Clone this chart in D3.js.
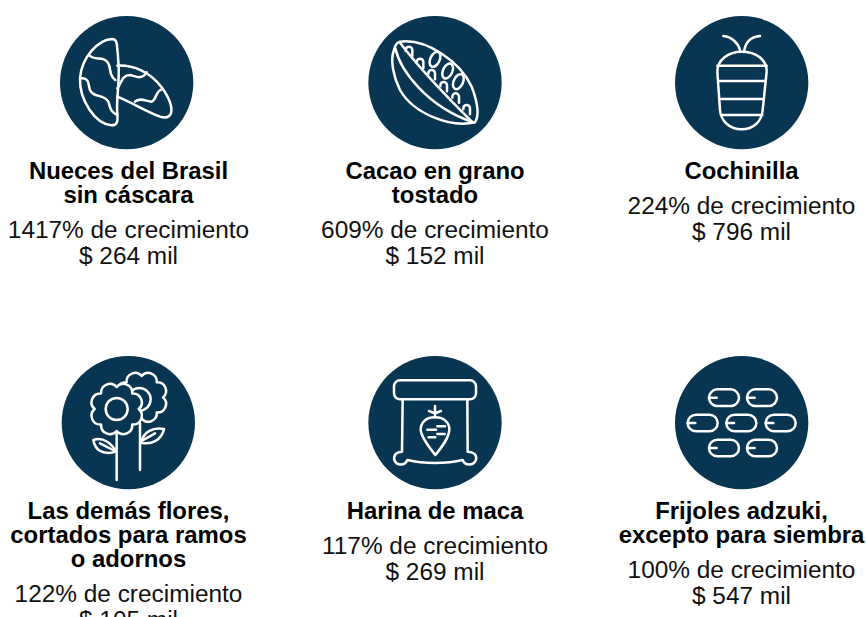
<!DOCTYPE html>
<html>
<head>
<meta charset="utf-8">
<script src="https://cdn.jsdelivr.net/npm/d3@7"></script>
<style>
html, body { margin: 0; padding: 0; background: #fff; overflow: hidden; }
text { font-family: "Liberation Sans", Arial, sans-serif; fill: #000; text-anchor: middle; }
.nombre { font-weight: bold; font-size: 23.9px; }
.dato { font-size: 24.4px; fill: #111; }
</style>
</head>
<body>
<div class="chart"></div>
<script>
const width = 866;
const height = 617;

const productos = [
  ["Nueces del Brasil", "sin cáscara"],
  ["Cacao en grano", "tostado"],
  ["Cochinilla"],
  ["Las demás flores,", "cortados para ramos", "o adornos"],
  ["Harina de maca"],
  ["Frijoles adzuki,", "excepto para siembra"]
];
const crecimiento = [1417, 609, 224, 122, 117, 100];
const valorMiles = [264, 152, 796, 105, 269, 547];
const iconos = ["nuez", "cacao", "cochinilla", "flores", "harina", "frijoles"];

const AZUL = "#083552";

const svg = d3.select(".chart").append("svg").attr("width", width).attr("height", height);

const col = d3.scalePoint().domain([0, 1, 2]).range([128.5, 741.5]);
const fila = d3.scalePoint().domain([0, 1]).range([179, 519]);

function trazo(g, d) {
  return g.append("path").attr("d", d);
}

// flower outline, one arc per petal
function scallop(cx, cy, r, n) {
  const pts = d3.range(n).map(i => {
    const a = i * 2 * Math.PI / n;
    return [cx + r * Math.cos(a), cy + r * Math.sin(a)];
  });
  const b = r * Math.sin(Math.PI / n) * 1.05;
  let d = `M${pts[0][0]} ${pts[0][1]}`;
  d3.range(1, n + 1).forEach(i => {
    const p = pts[i % n];
    d += `A${b} ${b} 0 0 1 ${p[0]} ${p[1]}`;
  });
  return d + "Z";
}

const dibujar = {
  nuez(g) {
    trazo(g, "M215 117C175 120 125 170 120 235C118 300 165 372 215 376C232 376 234 365 232 340C228 300 238 260 236 200C234 170 232 140 230 130C228 120 222 117 215 117Z");
    trazo(g, "M147 165C165 185 190 165 205 190C215 210 205 225 226 240");
    trazo(g, "M122 235C150 230 145 260 150 270C160 295 190 280 205 305C212 325 210 335 232 345");
    trazo(g, "M232 197C280 195 330 215 365 262C385 290 398 320 393 340C388 352 375 355 360 350C320 335 270 305 232 290");
    trazo(g, "M232 265C245 250 245 225 270 225C290 230 305 240 320 217");
    trazo(g, "M285 305C300 290 320 305 335 305C350 300 345 275 365 268");
  },
  cacao(g) {
    trazo(g, "M150 125C230 115 330 185 365 260C380 300 390 345 375 367C300 385 190 340 150 270C130 230 120 180 132 150C135 135 142 127 150 125Z");
    trazo(g, "M150 128C205 200 285 285 368 367");
    trazo(g, "M136 145C150 210 230 320 372 368");
    [[177, 150], [210, 186], [245, 220], [281, 256], [317, 290], [350, 325]].forEach(p => {
      trazo(g, `M${p[0] - 10} ${p[1] + 3}V${p[1]}A10 10 0 0 1 ${p[0] + 10} ${p[1]}V${p[1] + 18}`);
    });
    [[255, 178], [293, 213], [325, 245]].forEach(p => {
      g.append("ellipse").attr("rx", 14).attr("ry", 24)
        .attr("transform", `translate(${p[0]},${p[1]}) rotate(25)`);
    });
  },
  cochinilla(g) {
    trazo(g, "M245 155C205 155 172 180 172 215L180 330C183 365 210 388 245 388C280 388 305 365 308 330L320 215C320 180 290 155 245 155Z");
    trazo(g, "M172 197H320M178 243H316M181 297H311M185 345H307");
    trazo(g, "M190 108C215 110 235 130 240 150M300 108C275 110 258 125 253 150");
  },
  flores(g) {
    trazo(g, scallop(305, 172, 64, 8));
    g.append("circle").attr("cx", 298).attr("cy", 178).attr("r", 34);
    trazo(g, scallop(230, 207, 66, 8)).attr("fill", AZUL);
    g.append("circle").attr("cx", 230).attr("cy", 207).attr("r", 33);
    trazo(g, "M230 283V420M300 250V390");
    trazo(g, "M160 300C190 290 215 310 228 335C195 345 165 335 160 300Z");
    trazo(g, "M180 310L225 333");
    trazo(g, "M372 267C340 260 310 275 303 308C335 315 365 300 372 267Z");
    trazo(g, "M305 303L345 280");
  },
  harina(g) {
    g.append("rect").attr("x", 132).attr("y", 121).attr("width", 246).attr("height", 57).attr("rx", 18);
    trazo(g, "M158 178L156 335C140 335 130 345 133 360C140 378 165 378 172 360C220 372 290 372 338 360C345 378 370 378 378 360C382 345 370 335 353 335L352 178");
    trazo(g, "M255 232C225 232 212 250 212 270C215 295 240 325 256 345C272 325 298 295 298 268C298 250 285 232 255 232Z");
    trazo(g, "M255 198V232M237 213L255 220L273 213");
    trazo(g, "M262 259H285M232 269H258M262 282H284M236 292H256");
  },
  frijoles(g) {
    [[192, 173], [306, 173], [128, 249], [244, 249], [362, 249], [192, 324], [306, 324]].forEach(p => {
      g.append("rect").attr("x", p[0] - 45).attr("y", p[1] - 25).attr("width", 90).attr("height", 50).attr("rx", 25);
      trazo(g, `M${p[0] - 45} ${p[1]}H${p[0] - 22}`);
    });
  }
};

// centre of each circle in its crop, and the crop's corner
const recorte = {
  nuez: [40, 0, 260, 248],
  cacao: [350, 0, 255, 248],
  cochinilla: [660, 0, 245, 248],
  flores: [40, 340, 265, 248],
  harina: [350, 340, 255, 248],
  frijoles: [660, 340, 245, 248]
};

const celdas = productos.map((nombre, i) => ({
  nombre,
  crecimiento: crecimiento[i],
  valor: valorMiles[i],
  icono: iconos[i],
  c: i % 3,
  f: Math.floor(i / 3)
}));

const celda = svg.selectAll("g.celda").data(celdas).enter().append("g").attr("class", "celda");

celda.each(function (d) {
  const r = recorte[d.icono];
  const g = d3.select(this).append("g")
    .attr("transform", `translate(${r[0]},${r[1]}) scale(${1 / 3})`);
  g.append("circle").attr("cx", r[2]).attr("cy", r[3]).attr("r", 200).attr("fill", AZUL);
  const lineas = g.append("g").attr("fill", "none").attr("stroke", "#fff")
    .attr("stroke-width", 7.5).attr("stroke-linecap", "round").attr("stroke-linejoin", "round");
  dibujar[d.icono](lineas);

  const t = d3.select(this);
  const x = col(d.c);
  const y0 = fila(d.f);
  d.nombre.forEach((linea, j) => {
    t.append("text").attr("class", "nombre").attr("x", x).attr("y", y0 + j * 24).text(linea);
  });
  const yd = y0 + (d.nombre.length - 1) * 24 + 34.5;
  t.append("text").attr("class", "dato").attr("x", x).attr("y", yd).text(d.crecimiento + "% de crecimiento");
  t.append("text").attr("class", "dato").attr("x", x).attr("y", yd + 26.5).text("$ " + d.valor + " mil");
});
</script>
</body>
</html>
